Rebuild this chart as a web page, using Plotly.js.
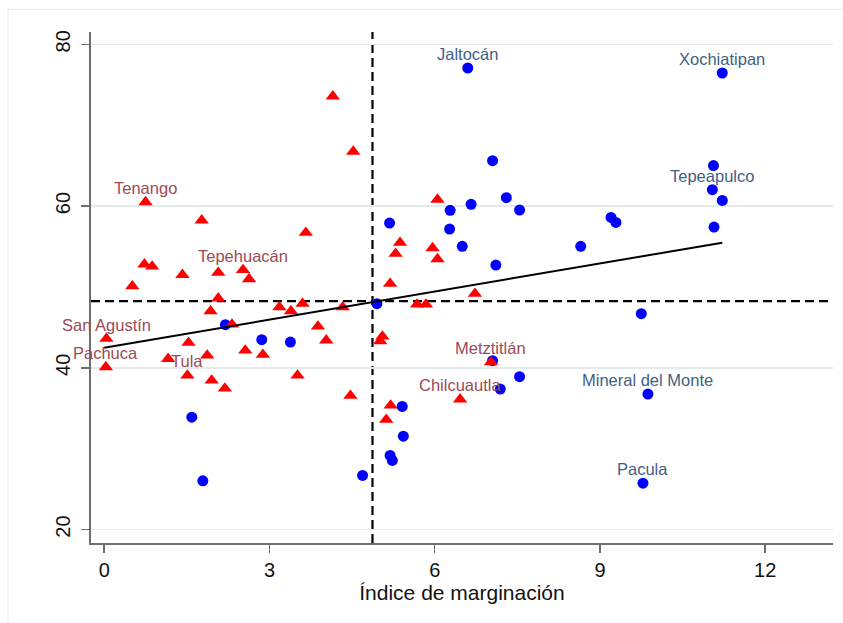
<!DOCTYPE html>
<html>
<head>
<meta charset="utf-8">
<script src="https://cdn.plot.ly/plotly-3.0.1.min.js"></script>
<style>html,body{margin:0;padding:0;background:#fff;}#chart{width:843px;height:623px;}</style>
</head>
<body>
<div id="chart"></div>
<script>
// Blue circles (municipios, grupo 1)
const blueX = [6.60, 11.22, 11.06, 7.05, 11.04, 11.22, 7.30, 6.66, 6.28, 7.54, 9.20, 9.29, 5.18, 6.27, 11.07, 6.50, 8.65, 7.11, 4.95, 9.75, 2.20, 2.86, 3.38, 7.05, 7.54, 7.19, 9.87, 5.41, 5.43, 1.59, 5.19, 5.23, 4.69, 1.79, 9.78];
const blueY = [77.07, 76.45, 65.00, 65.61, 62.03, 60.70, 61.04, 60.21, 59.47, 59.50, 58.60, 57.98, 57.90, 57.16, 57.40, 55.02, 55.02, 52.70, 47.93, 46.69, 45.33, 43.48, 43.18, 40.88, 38.90, 37.37, 36.75, 35.22, 31.55, 33.90, 29.17, 28.55, 26.70, 26.03, 25.74];
const blueNames = ["Jaltocán", "Xochiatipan", "", "", "Tepeapulco", "", "", "", "", "", "", "", "", "", "", "", "", "", "", "", "", "", "", "", "", "", "Mineral del Monte", "", "", "", "", "", "", "", "Pacula"];

// Red triangles (municipios, grupo 2)
const redX = [4.15, 4.52, 0.75, 1.77, 3.66, 0.73, 0.87, 1.42, 2.07, 2.52, 2.63, 0.51, 2.07, 1.93, 2.32, 3.18, 3.39, 3.60, 4.33, 3.88, 4.03, 0.04, 1.53, 2.56, 2.88, 1.16, 1.87, 0.03, 1.51, 1.95, 2.19, 3.51, 4.47, 6.05, 5.37, 5.29, 5.96, 6.05, 5.19, 6.73, 5.68, 5.84, 5.05, 5.01, 7.02, 6.46, 5.20, 5.12];
const redY = [73.57, 66.73, 60.50, 58.23, 56.70, 52.80, 52.54, 51.50, 51.76, 52.10, 50.97, 50.10, 48.60, 47.00, 45.37, 47.50, 47.00, 47.93, 47.50, 45.12, 43.40, 43.60, 43.10, 42.15, 41.62, 41.12, 41.53, 40.10, 39.06, 38.44, 37.45, 39.06, 36.55, 60.80, 55.47, 54.11, 54.81, 53.45, 50.40, 49.16, 47.84, 47.84, 43.88, 43.30, 40.70, 36.10, 35.35, 33.58];
const redNames = ["", "", "Tenango", "", "", "", "", "", "", "Tepehuacán", "", "", "", "", "", "", "", "", "", "", "", "San Agustín", "", "", "", "", "", "Pachuca", "Tula", "", "", "", "", "", "", "", "", "", "", "", "", "", "", "", "Metztitlán", "Chilcuautla", "", ""];

// Reference lines (means) and fitted line
const meanX = [4.87];
const meanY = [48.24];
const fitX = [0, 11.22];
const fitY = [42.49, 55.47];

const xTicks = [0, 3, 6, 9, 12];
const yTicks = [20, 40, 60, 80];
const xTitle = "Índice de marginación";

const FONT = "Liberation Sans, Arial, Helvetica, sans-serif";
const xRange = [-0.24, 13.23];
const yRange = [18.34, 81.52];

const traces = [
  {x: blueX, y: blueY, type: 'scatter', mode: 'markers', hoverinfo: 'skip',
   marker: {symbol: 'circle', size: 11, color: '#0000ff', line: {width: 0}}},
  {x: redX, y: redY, type: 'scatter', mode: 'markers', hoverinfo: 'skip',
   marker: {symbol: 'triangle-up', size: 12.5, color: '#ff0000', line: {width: 0}}},
  {x: fitX, y: fitY, type: 'scatter', mode: 'lines', hoverinfo: 'skip',
   line: {color: '#000000', width: 2}}
];

const annotations = [];
blueNames.forEach((n, i) => {
  if (n) annotations.push({x: blueX[i], y: blueY[i], text: n, showarrow: false, yshift: 14,
    font: {family: FONT, size: 16.5, color: '#3f5f85'}});
});
redNames.forEach((n, i) => {
  if (n) annotations.push({x: redX[i], y: redY[i], text: n, showarrow: false, yshift: 14,
    font: {family: FONT, size: 16.5, color: '#9a4b56'}});
});

const shapes = [
  {type: 'rect', xref: 'paper', yref: 'paper', x0: -0.1119, x1: 1.3, y0: -0.4, y1: 1.0444,
   line: {color: '#e4e9ed', width: 1}, fillcolor: 'rgba(0,0,0,0)', layer: 'below'},
  {type: 'line', xref: 'x', yref: 'paper', x0: meanX[0], x1: meanX[0], y0: 0, y1: 1,
   line: {color: '#000000', width: 2.2, dash: '9px,5px'}, layer: 'below'},
  {type: 'line', xref: 'paper', yref: 'y', x0: 0, x1: 1, y0: meanY[0], y1: meanY[0],
   line: {color: '#000000', width: 2.2, dash: '9px,5px'}, layer: 'below'}
];

const layout = {
  width: 843, height: 623,
  margin: {l: 91, r: 10, t: 32, b: 80},
  paper_bgcolor: '#ffffff', plot_bgcolor: '#ffffff',
  showlegend: false,
  font: {family: FONT, color: '#000000'},
  xaxis: {
    range: xRange, tickvals: xTicks, ticktext: xTicks.map(String),
    showgrid: false, zeroline: false,
    showline: true, linecolor: '#6e6e6e', linewidth: 2,
    ticks: 'outside', ticklen: 8, tickwidth: 1.5, tickcolor: '#6e6e6e',
    tickfont: {family: FONT, size: 20, color: '#111111'},
    title: {text: xTitle, font: {family: FONT, size: 21, color: '#111111'}, standoff: 3}
  },
  yaxis: {
    range: yRange, tickvals: yTicks, ticktext: yTicks.map(String),
    showgrid: true, gridcolor: '#e3ebee', gridwidth: 1.5, zeroline: false,
    showline: true, linecolor: '#6e6e6e', linewidth: 2,
    ticks: 'outside', ticklen: 8, tickwidth: 1.5, tickcolor: '#6e6e6e',
    tickangle: -90, ticklabelstandoff: 3,
    tickfont: {family: FONT, size: 20, color: '#111111'}
  },
  shapes: shapes,
  annotations: annotations
};

Plotly.newPlot('chart', traces, layout, {staticPlot: true, displayModeBar: false});
</script>
</body>
</html>
